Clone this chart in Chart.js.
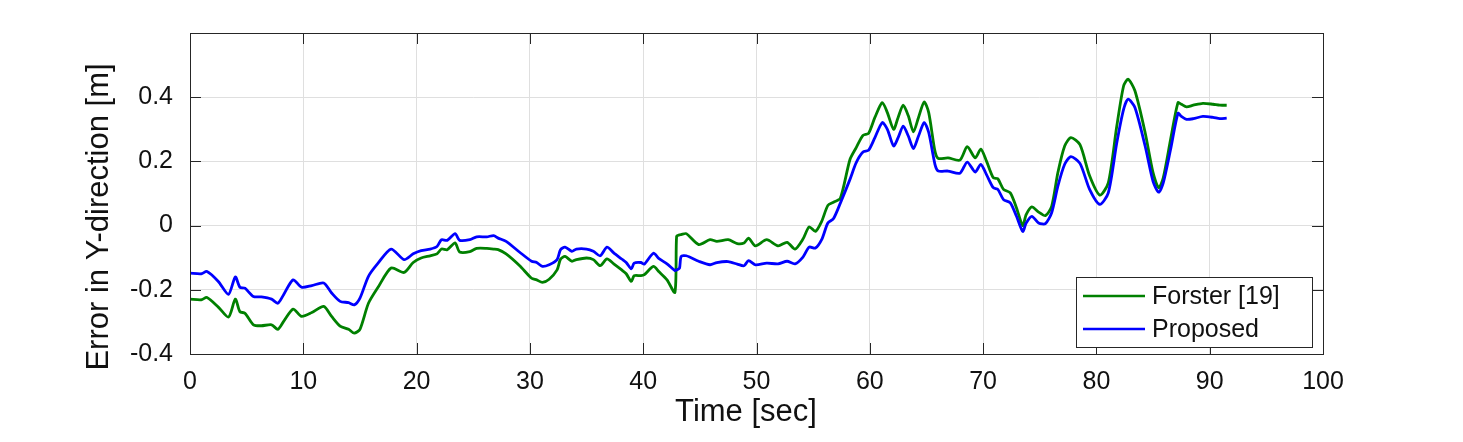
<!DOCTYPE html>
<html>
<head>
<meta charset="utf-8">
<script src="https://cdn.jsdelivr.net/npm/chart.js@4.4.1/dist/chart.umd.min.js"></script>
<style>
  body { margin: 0; background: #fff; }
  canvas { display: block; }
</style>
</head>
<body>
<canvas id="errorChart" width="1463" height="442"></canvas>
<script>
// Time axis (sec) shared by both series
const time = [
  0, 1.0, 1.5, 2.5, 3.4, 4.0, 4.4, 4.85, 5.6, 6.3, 7.2, 7.75, 8.25, 9.1, 9.85,
  10.75, 11.8, 12.5, 13.25, 14.0, 14.5, 15.0, 15.75, 16.6, 17.75, 18.9, 19.7,
  20.4, 21.2, 21.8, 22.2, 22.7, 23.4, 23.8, 24.7, 25.3, 26.2, 26.8, 27.2, 27.9,
  29.1, 30.15, 30.6, 31.1, 31.7, 32.4, 32.7, 33.1, 33.7, 34.1, 35.0, 35.6, 36.2,
  36.8, 37.4, 38.1, 38.5, 38.95, 39.2, 39.8, 40.1, 40.9, 41.4, 42.1, 42.8, 42.95,
  43.2, 43.35, 43.8, 44.9, 45.9, 46.5, 47.5, 48.3, 48.9, 49.3, 49.9, 50.9, 51.9,
  52.7, 53.4, 54.1, 54.65, 55.2, 55.75, 56.3, 56.8, 57.4, 58.25, 58.8, 59.4, 59.9,
  60.45, 61.1, 61.55, 62.1, 62.5, 62.95, 63.4, 63.85, 64.3, 64.8, 65.2, 65.75,
  66.05, 66.9, 67.95, 68.6, 69.3, 69.8, 70.3, 70.9, 71.3, 71.8, 72.4, 72.95, 73.5,
  73.8, 74.3, 74.9, 75.5, 76.05, 76.6, 77.2, 77.75, 78.55, 79.4, 80.3, 81.05,
  81.8, 82.4, 82.8, 83.4, 84.3, 85.0, 85.5, 85.9, 86.55, 87.2, 87.5, 87.95, 88.55,
  89.4, 90.3, 90.9, 91.5
];

const forster = [
  -0.229, -0.231, -0.224, -0.254, -0.285, -0.229, -0.268, -0.273, -0.309, -0.312,
  -0.309, -0.323, -0.299, -0.260, -0.283, -0.271, -0.252, -0.283, -0.313, -0.323,
  -0.335, -0.323, -0.242, -0.192, -0.132, -0.146, -0.115, -0.101, -0.094, -0.088,
  -0.073, -0.075, -0.054, -0.082, -0.081, -0.071, -0.071, -0.073, -0.075, -0.088,
  -0.125, -0.164, -0.169, -0.177, -0.167, -0.138, -0.105, -0.096, -0.111, -0.106,
  -0.101, -0.106, -0.125, -0.104, -0.119, -0.138, -0.150, -0.174, -0.156, -0.156,
  -0.153, -0.127, -0.144, -0.169, -0.208, -0.033, -0.029, -0.028, -0.025, -0.059,
  -0.044, -0.049, -0.044, -0.056, -0.054, -0.039, -0.063, -0.044, -0.063, -0.052,
  -0.073, -0.042, -0.004, -0.018, 0.013, 0.063, 0.073, 0.085, 0.206, 0.243, 0.281,
  0.288, 0.337, 0.383, 0.352, 0.300, 0.337, 0.375, 0.342, 0.292, 0.337, 0.385,
  0.352, 0.232, 0.209, 0.211, 0.204, 0.246, 0.211, 0.238, 0.201, 0.149, 0.146,
  0.113, 0.102, 0.055, 0.000, 0.034, 0.058, 0.042, 0.031, 0.060, 0.165, 0.248,
  0.274, 0.252, 0.155, 0.095, 0.133, 0.310, 0.435, 0.456, 0.420, 0.290, 0.165,
  0.118, 0.149, 0.269, 0.383, 0.378, 0.370, 0.375, 0.381, 0.378, 0.375, 0.375
];

const proposed = [
  -0.148, -0.150, -0.143, -0.174, -0.214, -0.160, -0.192, -0.195, -0.221, -0.222,
  -0.229, -0.242, -0.216, -0.169, -0.192, -0.187, -0.179, -0.210, -0.236, -0.240,
  -0.247, -0.226, -0.158, -0.117, -0.073, -0.106, -0.088, -0.078, -0.073, -0.065,
  -0.044, -0.046, -0.025, -0.046, -0.044, -0.035, -0.035, -0.031, -0.039, -0.049,
  -0.083, -0.111, -0.115, -0.127, -0.122, -0.106, -0.075, -0.067, -0.080, -0.073,
  -0.073, -0.080, -0.094, -0.067, -0.085, -0.104, -0.115, -0.135, -0.117, -0.115,
  -0.120, -0.086, -0.103, -0.119, -0.140, -0.138, -0.133, -0.096, -0.094, -0.111,
  -0.122, -0.115, -0.112, -0.120, -0.125, -0.109, -0.122, -0.117, -0.119, -0.111,
  -0.119, -0.098, -0.067, -0.070, -0.044, 0.008, 0.022, 0.070, 0.144, 0.196, 0.229,
  0.235, 0.274, 0.321, 0.300, 0.248, 0.274, 0.310, 0.279, 0.240, 0.279, 0.321,
  0.290, 0.191, 0.170, 0.170, 0.163, 0.198, 0.167, 0.191, 0.159, 0.118, 0.113,
  0.081, 0.071, 0.029, -0.018, 0.008, 0.029, 0.008, 0.006, 0.040, 0.123, 0.191,
  0.215, 0.194, 0.113, 0.066, 0.102, 0.258, 0.362, 0.394, 0.368, 0.248, 0.138,
  0.104, 0.133, 0.238, 0.350, 0.340, 0.331, 0.333, 0.340, 0.337, 0.333, 0.335
];

const xTicks = [0, 10, 20, 30, 40, 50, 60, 70, 80, 90, 100];
const yTicks = [-0.4, -0.2, 0, 0.2, 0.4, 0.6];
const yTickLabels = ['-0.4', '-0.2', '0', '0.2', '0.4', ''];

const FONT = "'Liberation Sans', Arial, Helvetica, sans-serif";
const AXIS_COLOR = '#262626';

// box + inward tick marks, matlab style
const axesBox = {
  id: 'axesBox',
  afterDatasetsDraw(chart) {
    const {ctx, chartArea: a, scales: {x, y}} = chart;
    const len = 11;
    ctx.save();
    ctx.strokeStyle = AXIS_COLOR;
    ctx.lineWidth = 1;
    ctx.beginPath();
    x.ticks.forEach(t => {
      const px = Math.round(x.getPixelForValue(t.value)) + 0.5;
      ctx.moveTo(px, a.bottom); ctx.lineTo(px, a.bottom - len);
      ctx.moveTo(px, a.top); ctx.lineTo(px, a.top + len);
    });
    y.ticks.forEach(t => {
      const py = Math.round(y.getPixelForValue(t.value)) + 0.5;
      ctx.moveTo(a.left, py); ctx.lineTo(a.left + len, py);
      ctx.moveTo(a.right, py); ctx.lineTo(a.right - len, py);
    });
    ctx.stroke();
    ctx.strokeRect(Math.round(a.left) + 0.5, Math.round(a.top) + 0.5,
      Math.round(a.right - a.left), Math.round(a.bottom - a.top));
    ctx.restore();
  }
};

// legend box in the lower right corner of the axes
const cornerLegend = {
  id: 'cornerLegend',
  afterDraw(chart) {
    const {ctx, chartArea: a} = chart;
    const w = 236, h = 70;
    const left = a.right - 11 - w, top = a.bottom - 7 - h;
    ctx.save();
    ctx.fillStyle = '#fff';
    ctx.fillRect(left, top, w, h);
    ctx.strokeStyle = AXIS_COLOR;
    ctx.lineWidth = 1;
    ctx.strokeRect(Math.round(left) + 0.5, Math.round(top) + 0.5, w, h);
    ctx.font = '25px ' + FONT;
    ctx.textBaseline = 'middle';
    chart.data.datasets.forEach((ds, i) => {
      const ry = top + 19 + i * 33;
      ctx.strokeStyle = ds.borderColor;
      ctx.lineWidth = 2.6;
      ctx.beginPath();
      ctx.moveTo(left + 7, ry); ctx.lineTo(left + 69, ry);
      ctx.stroke();
      ctx.fillStyle = '#111';
      ctx.fillText(ds.label, left + 76, ry + 1);
    });
    ctx.restore();
  }
};

// axis labels, placed a bit off the axes centre like the original
const axisLabels = {
  id: 'axisLabels',
  afterDraw(chart) {
    const {ctx} = chart;
    ctx.save();
    ctx.font = '31px ' + FONT;
    ctx.fillStyle = '#111';
    ctx.textAlign = 'center';
    ctx.textBaseline = 'middle';
    ctx.fillText('Time [sec]', 746, 412);
    ctx.translate(99, 217);
    ctx.rotate(-Math.PI / 2);
    ctx.fillText('Error in Y-direction [m]', 0, 0);
    ctx.restore();
  }
};

new Chart(document.getElementById('errorChart'), {
  type: 'line',
  data: {
    datasets: [{
      label: 'Forster [19]',
      data: time.map((t, i) => ({x: t, y: forster[i]})),
      borderColor: '#008000',
      borderWidth: 2.8,
      pointRadius: 0,
      tension: 0.25,
      order: 1
    }, {
      label: 'Proposed',
      data: time.map((t, i) => ({x: t, y: proposed[i]})),
      borderColor: '#0000ff',
      borderWidth: 2.8,
      pointRadius: 0,
      tension: 0.25,
      order: 0
    }]
  },
  options: {
    responsive: false,
    animation: false,
    layout: { padding: { top: 33, right: 140, left: 0, bottom: 0 } },
    plugins: {
      legend: { display: false },
      tooltip: { enabled: false }
    },
    scales: {
      x: {
        type: 'linear',
        min: 0,
        max: 100,
        afterBuildTicks: s => { s.ticks = xTicks.map(v => ({value: v})); },
        afterFit: s => { s.height = 88; },
        grid: { color: '#dfdfdf', drawTicks: false },
        border: { display: false },
        ticks: {
          padding: 13,
          color: '#111',
          font: { family: FONT, size: 25 },
          maxRotation: 0,
          callback: v => String(v)
        }
      },
      y: {
        min: -0.4,
        max: 0.6,
        afterBuildTicks: s => { s.ticks = yTicks.map(v => ({value: v})); },
        afterFit: s => { s.width = 190; },
        grid: { color: '#dfdfdf', drawTicks: false },
        border: { display: false },
        ticks: {
          padding: 17,
          color: '#111',
          font: { family: FONT, size: 25 },
          callback: (v, i) => yTickLabels[i]
        }
      }
    }
  },
  plugins: [axesBox, cornerLegend, axisLabels]
});
</script>
</body>
</html>
